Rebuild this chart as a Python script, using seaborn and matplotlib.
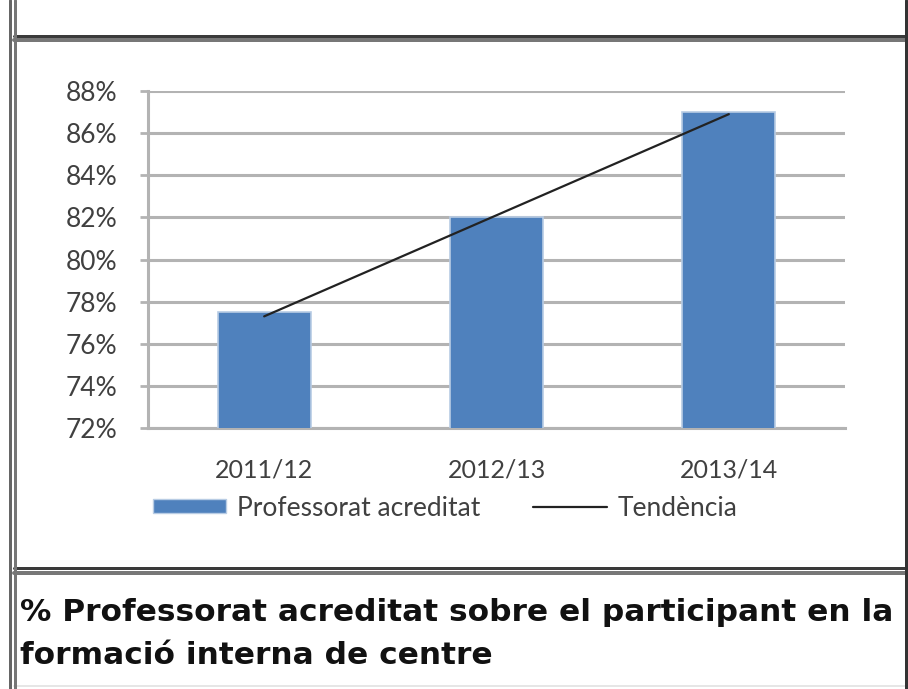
import numpy as np
import seaborn as sns
import matplotlib.pyplot as plt
from matplotlib.patches import Patch
from matplotlib.lines import Line2D

# data
seasons = ['2011/12', '2012/13', '2013/14']
accredited = [77.5, 82.0, 87.0]
trend_ends = [77.3, 86.9]   # excel linear trendline, first and last season
y_ticks = [72, 74, 76, 78, 80, 82, 84, 86, 88]
y_labels = ['72%', '74%', '76%', '78%', '80%', '82%', '84%', '86%', '88%']
legend_labels = ['Professorat acreditat', 'Tendència']
caption = '% Professorat acreditat sobre el participant en la\nformació interna de centre'

W, H = 908, 689
sns.set_style('white')
plt.rcParams['font.family'] = ['Lato', 'DejaVu Sans']

fig = plt.figure(figsize=(W / 100, H / 100), dpi=100)
ax = fig.add_axes([148 / W, 1 - 428 / H, 697 / W, 337 / H])

blue = '#4F81BD'
sns.barplot(x=seasons, y=accredited, color=blue, width=0.4, saturation=1,
            edgecolor='#b8cce4', linewidth=1.2, ax=ax, zorder=3)

x_pos = np.arange(len(seasons))
ax.plot(x_pos[[0, -1]], trend_ends, color='#222222', lw=1.6, zorder=4)

ax.set_ylim(72, 88)
ax.set_xlim(-0.5, len(seasons) - 0.5)
ax.set_yticks(y_ticks)
ax.set_yticklabels(y_labels)
ax.yaxis.grid(True, color='#b3b3b3', lw=2.2, zorder=0)
ax.set_axisbelow(True)
ax.tick_params(axis='y', length=6, width=2, color='#b3b3b3', labelsize=19,
               labelcolor='#404040', pad=16, left=True)
ax.tick_params(axis='x', length=0, labelsize=18, labelcolor='#404040', pad=22)
for side in ['top', 'right']:
    ax.spines[side].set_visible(False)
for side in ['left', 'bottom']:
    ax.spines[side].set_color('#b3b3b3')
    ax.spines[side].set_linewidth(2.2)
ax.set_xlabel('')
ax.set_ylabel('')

handles = [Patch(facecolor=blue, edgecolor='#b8cce4', lw=1),
           Line2D([], [], color='#222222', lw=1.6)]
fig.legend(handles, legend_labels, loc='center', bbox_to_anchor=(445 / W, 1 - 508 / H),
           ncol=2, frameon=False, fontsize=19, handlelength=2.8, handleheight=0.45,
           handletextpad=0.4, columnspacing=2.0, labelcolor='#404040')

fig.text(20 / W, 1 - 634 / H, caption, fontsize=22.5, fontweight='bold',
         family='DejaVu Sans', color='#111111', va='center', ha='left',
         linespacing=1.6)

# table borders of the document
def hline(y, x0, x1, color, lw):
    fig.add_artist(Line2D([x0 / W, x1 / W], [1 - y / H, 1 - y / H], color=color,
                          lw=lw * 0.72, transform=fig.transFigure))

def vline(x, y0, y1, color, lw):
    fig.add_artist(Line2D([x / W, x / W], [1 - y0 / H, 1 - y1 / H], color=color,
                          lw=lw * 0.72, transform=fig.transFigure))

hline(36, 14, W, '#3a3a3a', 3)
hline(40, 14, W, '#777777', 4)
hline(568, 14, W, '#3a3a3a', 3)
hline(573, 14, W, '#777777', 4)
hline(686, 14, W, '#e6e6e6', 2)
vline(10, 0, H, '#666666', 3)
vline(14.5, 0, H, '#777777', 3)
vline(906, 0, H, '#333333', 3)

fig.savefig('out.png', dpi=100)
